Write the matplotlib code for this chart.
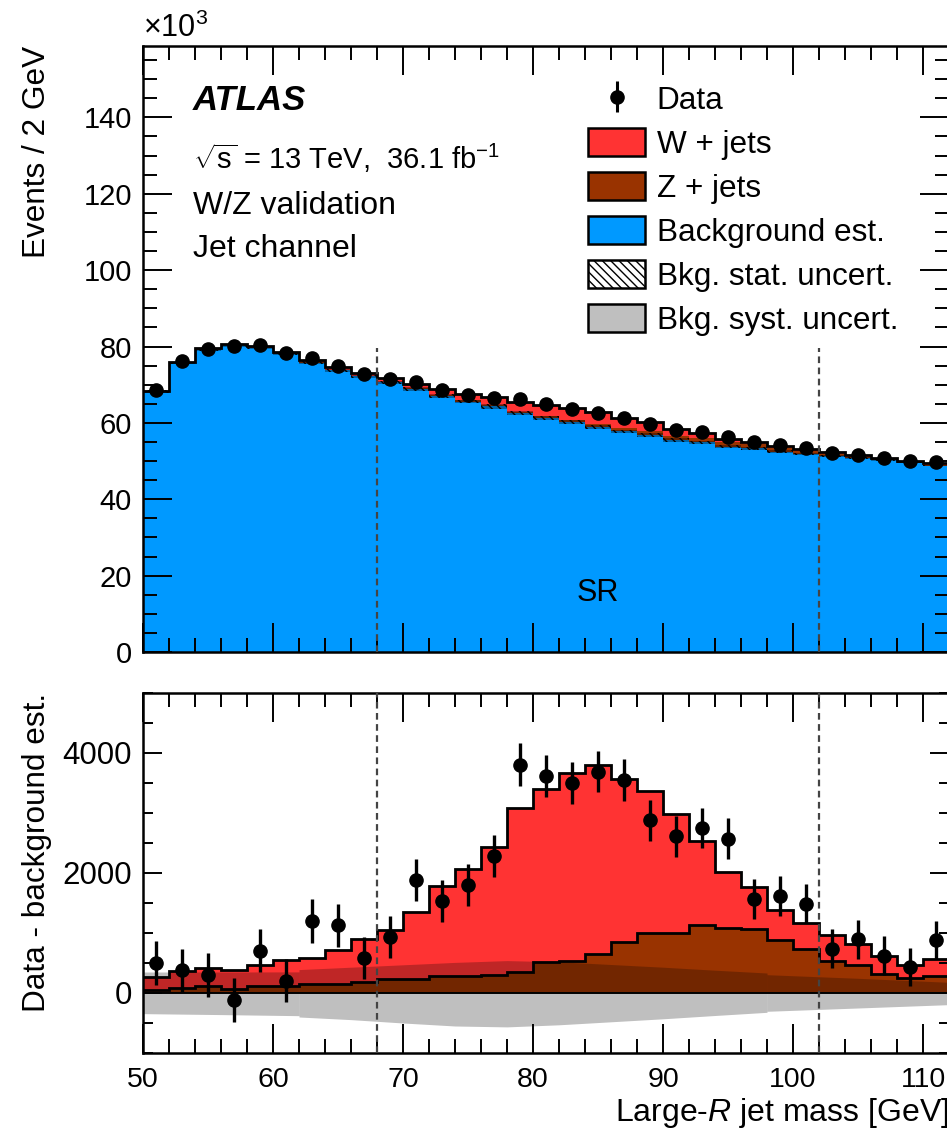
import numpy as np
import matplotlib
matplotlib.use('Agg')
import matplotlib.pyplot as plt
from matplotlib.patches import Patch

plt.rcParams['font.family'] = ['Liberation Sans', 'DejaVu Sans']
plt.rcParams['mathtext.fontset'] = 'custom'
plt.rcParams['mathtext.rm'] = 'Liberation Sans'
plt.rcParams['mathtext.it'] = 'Liberation Sans:italic'
plt.rcParams['mathtext.bf'] = 'Liberation Sans:bold'
plt.rcParams['hatch.linewidth'] = 1.0

# 2 GeV bins, 50 - 112 GeV (visible part)
edges = np.arange(50, 114, 2)
centers = edges[:-1] + 1

# background estimate per bin (events)
bkg = [68200, 75700, 79100, 80300, 79600, 78100, 75800, 73800, 72200, 70600,
       68800, 67000, 65600, 64300, 62500, 61200, 60200, 59000, 57800, 56800,
       55500, 54900, 53800, 53300, 52500, 51900, 51300, 50700, 50200, 49600, 48800]
# W + jets per bin
wjets = [210, 280, 295, 320, 350, 430, 435, 570, 720, 820,
         1120, 1500, 1780, 2130, 2730, 2880, 3140, 3150, 2730, 2360,
         1990, 1400, 935, 710, 490, 425, 435, 350, 300, 220, 285]
# Z + jets per bin
zjets = [56, 90, 125, 67, 115, 125, 145, 150, 178, 233,
         233, 280, 290, 306, 355, 520, 535, 645, 845, 1000,
         1000, 1140, 1085, 1065, 890, 735, 530, 470, 320, 250, 290]
# data - background est.
resid = [500, 378, 300, -111, 706, 206, 1200, 1133, 583, 933,
         1883, 1539, 1806, 2283, 3806, 3622, 3500, 3689, 3556, 2878,
         2611, 2750, 2572, 1572, 1611, 1489, 739, 900, 622, 433, 878]
resid_err = [360, 362, 365, 368, 360, 355, 362, 358, 355, 352,
             355, 350, 348, 350, 362, 352, 350, 345, 348, 345,
             340, 340, 338, 335, 335, 330, 328, 325, 322, 318, 317]

# background syst. band, three pieces
syst_a_x = [50, 56, 62]
syst_a_up = [350, 350, 352]
syst_a_dn = [-344, -360, -378]
syst_b_x = [62, 66, 70, 74, 78, 82, 86, 90, 94, 98]
syst_b_up = [390, 430, 470, 510, 540, 520, 475, 430, 380, 333]
syst_b_dn = [-400, -444, -500, -550, -565, -530, -480, -430, -375, -322]
syst_c_x = [98, 105, 112]
syst_c_up = [305, 245, 178]
syst_c_dn = [-305, -250, -194]

sr_edges = [68, 102]

COL_W = '#ff3333'
COL_Z = '#993300'
COL_BKG = '#0099ff'
COL_SYST = '#bfbfbf'

bkg = np.array(bkg, float)
wjets = np.array(wjets, float)
zjets = np.array(zjets, float)
resid = np.array(resid, float)
resid_err = np.array(resid_err, float)

W, H = 947, 1133
fig = plt.figure(figsize=(W / 100, H / 100), dpi=100)
L = 143 / W
AW = 806 / W
ax1 = fig.add_axes([L, 1 - 652 / H, AW, 606 / H])
ax2 = fig.add_axes([L, 1 - 1053 / H, AW, 360 / H])

# ---------------- top panel ----------------
k = 1000.0
ax1.stairs(bkg / k, edges, baseline=0, fill=True, color=COL_BKG, lw=0)
ax1.stairs((bkg + zjets) / k, edges, baseline=bkg / k, fill=True, color=COL_Z, lw=0)
ax1.stairs((bkg + zjets + wjets) / k, edges, baseline=(bkg + zjets) / k,
           fill=True, color=COL_W, lw=0)

all_x = syst_a_x + syst_b_x + syst_c_x
all_up = syst_a_up + syst_b_up + syst_c_up
half = np.interp(centers, all_x, all_up) / k
ax1.stairs((bkg / k) + half, edges, baseline=(bkg / k) - half, fill=True,
           facecolor='black', alpha=0.35, lw=0)
ax1.stairs((bkg / k) + half, edges, baseline=(bkg / k) - half, fill=True,
           facecolor='none', edgecolor='black', hatch='\\\\\\\\', lw=0)
ax1.stairs((bkg + zjets + wjets) / k, edges, baseline=None, color='black', lw=2.0)

data = (bkg + resid) / k
ax1.errorbar(centers, data, yerr=resid_err / k, fmt='o', color='black',
             ms=9.5, elinewidth=2.2, capsize=0, zorder=5)

for xv in sr_edges:
    ax1.axvline(xv, ymin=0, ymax=79.6 / 158.7, color='#444444', lw=1.6,
                ls=(0, (3, 2)), zorder=4)

ax1.set_xlim(50, 112)
ax1.set_ylim(0, 158.7)
ax1.set_yticks(np.arange(0, 160, 20))
ax1.set_yticks(np.arange(0, 160, 5), minor=True)
ax1.set_xticks(np.arange(50, 113, 10))
ax1.set_xticks(np.arange(50, 113, 2), minor=True)
ax1.tick_params(labelbottom=False)
ax1.text(0, 1.004, r'$\times10^{3}$', transform=ax1.transAxes, fontsize=22,
         ha='left', va='bottom')
ax1.set_ylabel('Events / 2 GeV', fontsize=22.7, loc='top')
ax1.yaxis.set_label_coords(-0.113, 1.0)

ax1.text(0.062, 0.894, 'ATLAS', transform=ax1.transAxes, fontsize=25,
         fontweight='bold', fontstyle='italic', va='baseline')
ax1.text(0.062, 0.797, r'$\sqrt{\mathrm{s}}$ = 13 TeV,  36.1 fb$^{-1}$',
         transform=ax1.transAxes, fontsize=21, va='baseline')
ax1.text(0.062, 0.723, 'W/Z validation', transform=ax1.transAxes, fontsize=23,
         va='baseline')
ax1.text(0.062, 0.651, 'Jet channel', transform=ax1.transAxes, fontsize=23,
         va='baseline')
ax1.text(85, 15.5, 'SR', ha='center', va='center', fontsize=22)

h_data = ax1.errorbar([], [], yerr=[], fmt='o', color='black', ms=9.5,
                      elinewidth=2.2, capsize=0)
handles = [
    h_data,
    Patch(facecolor=COL_W, edgecolor='black', lw=1.8),
    Patch(facecolor=COL_Z, edgecolor='black', lw=1.8),
    Patch(facecolor=COL_BKG, edgecolor='black', lw=1.8),
    Patch(facecolor='white', edgecolor='black', hatch='\\\\\\\\', lw=1.8),
    Patch(facecolor=COL_SYST, edgecolor='black', lw=1.8),
]
labels = ['Data', 'W + jets', 'Z + jets', 'Background est.',
          'Bkg. stat. uncert.', 'Bkg. syst. uncert.']
fig.legend(handles, labels, loc='upper left',
           bbox_to_anchor=(588 / W, 1 - 84 / H), frameon=False, fontsize=22.7,
           handlelength=1.81, handleheight=1.01, handletextpad=0.37,
           labelspacing=0.38, borderpad=0, borderaxespad=0)

# ---------------- bottom panel ----------------
ax2.stairs(zjets, edges, baseline=0, fill=True, color=COL_Z, lw=0)
ax2.stairs(zjets + wjets, edges, baseline=zjets, fill=True, color=COL_W, lw=0)
for sx, su, sd in [(syst_a_x, syst_a_up, syst_a_dn),
                   (syst_b_x, syst_b_up, syst_b_dn),
                   (syst_c_x, syst_c_up, syst_c_dn)]:
    ax2.fill_between(sx, sd, su, color='black', alpha=0.25, lw=0)
ax2.stairs(zjets, edges, baseline=None, color='black', lw=2.0)
ax2.stairs(zjets + wjets, edges, baseline=None, color='black', lw=2.0)
ax2.axhline(0, color='black', lw=1.4)
ax2.errorbar(centers, resid, yerr=resid_err, fmt='o', color='black',
             ms=9.5, elinewidth=2.4, capsize=0, zorder=5)
for xv in sr_edges:
    ax2.axvline(xv, color='#444444', lw=1.6, ls=(0, (3, 2)), zorder=4)

ax2.set_xlim(50, 112)
ax2.set_ylim(-1000, 5000)
ax2.set_yticks([0, 2000, 4000])
ax2.set_yticks(np.arange(-1000, 5001, 500), minor=True)
ax2.set_xticks(np.arange(50, 113, 10))
ax2.set_xticks(np.arange(50, 113, 2), minor=True)
ax2.set_ylabel('Data - background est.', fontsize=22.7, loc='top')
ax2.yaxis.set_label_coords(-0.113, 1.0)
ax2.set_xlabel('Large-$R$ jet mass [GeV]', fontsize=23, loc='right')
ax2.xaxis.set_label_coords(1.0, -0.12)

for ax in (ax1, ax2):
    for sp in ax.spines.values():
        sp.set_linewidth(1.8)
    ax.tick_params(which='both', direction='in', top=True, right=True,
                   width=1.4, labelsize=21, pad=8)
    ax.tick_params(which='major', length=21)
    ax.tick_params(which='minor', length=10)
ax2.tick_params(axis='y', which='major', length=14, labelsize=22.5)
ax2.tick_params(axis='y', which='minor', length=7)
ax2.tick_params(axis='x', labelsize=20.5, pad=10)

fig.savefig('out.png', dpi=100)
